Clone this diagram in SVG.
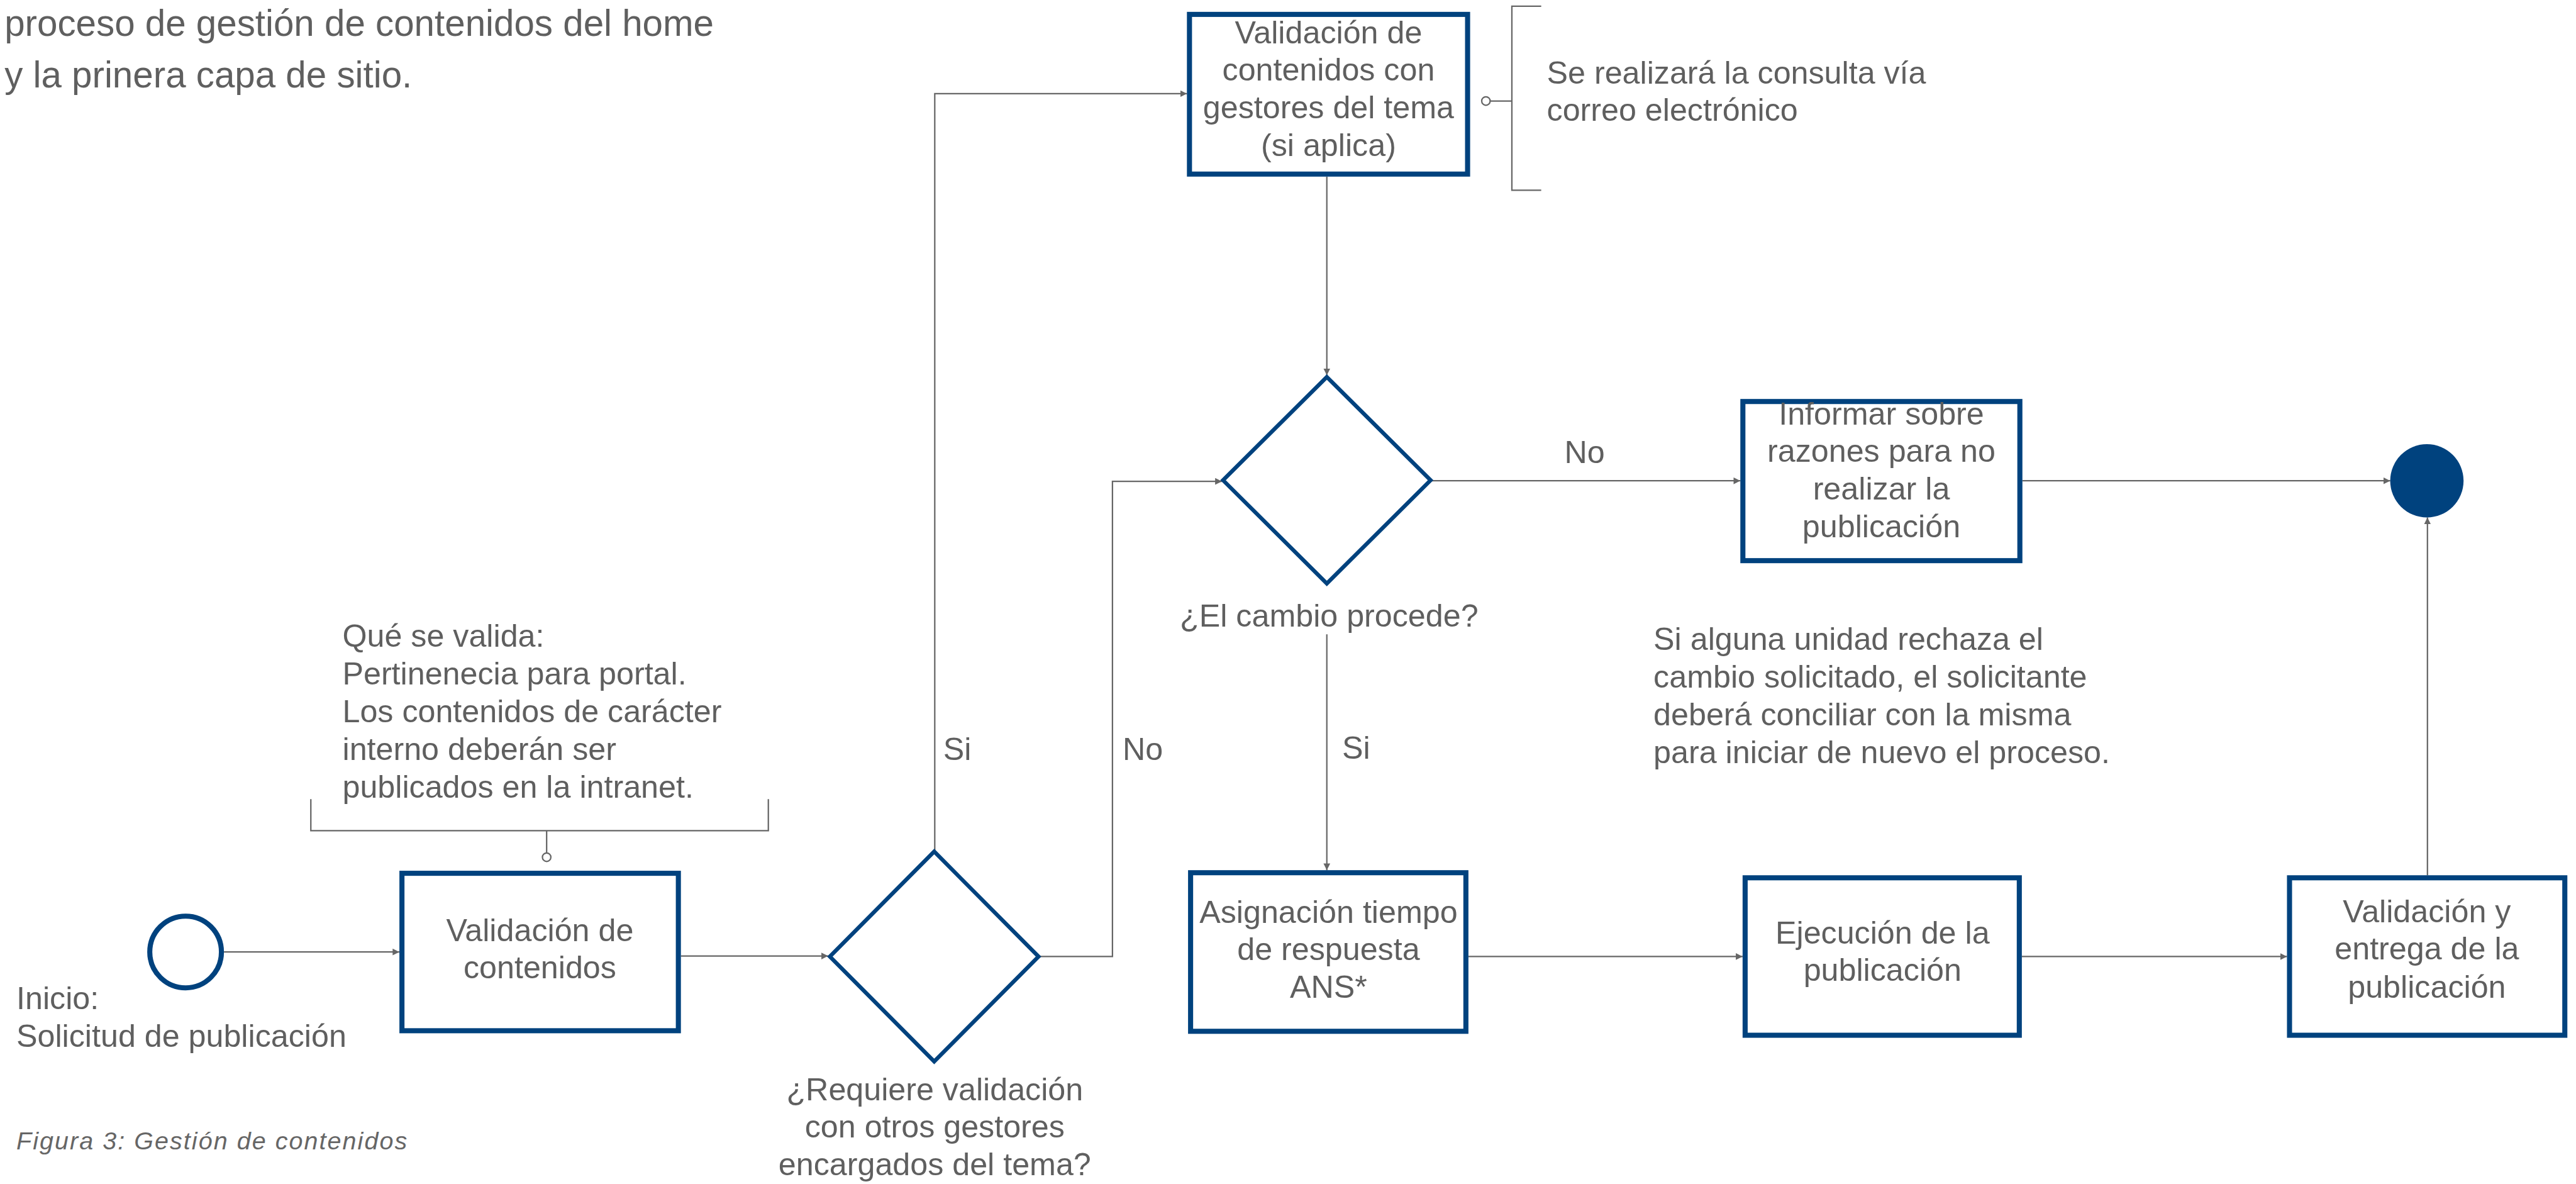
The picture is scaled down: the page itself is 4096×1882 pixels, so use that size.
<svg xmlns="http://www.w3.org/2000/svg" width="4096" height="1882" viewBox="0 0 4096 1882">
<style>
.t{font-family:"Liberation Sans",Arial,Helvetica,sans-serif;font-size:56px;fill:#5f5f5f}
.c{text-anchor:middle}
.box{fill:#fff;stroke:#00427e;stroke-width:9}
.dia{fill:#fff;stroke:#00427e;stroke-width:7;stroke-linejoin:miter}
.ln{fill:none;stroke:#666;stroke-width:2.5}
.arr{marker-end:url(#ah)}
.ring{fill:#fff;stroke:#666;stroke-width:2.5}
</style>
<defs>
<marker id="ah" markerUnits="userSpaceOnUse" viewBox="0 0 12 12" refX="12" refY="6" markerWidth="12" markerHeight="12" orient="auto">
<path d="M0,0 L12,6 L0,12 z" fill="#666"/>
</marker>
</defs>
<rect width="4096" height="1882" fill="#fff"/>
<g transform="scale(0.897)">
<g id="intro-text">
<text class="t" x="8" y="63" style="font-size:65px">proceso de gestión de contenidos del home</text>
<text class="t" x="8" y="155" style="font-size:65px">y la prinera capa de sitio.</text>
</g>
<g id="caption">
<text class="t" x="29" y="2037" style="font-size:44px;font-style:italic;letter-spacing:2.3px;fill:#666">Figura 3: Gestión de contenidos</text>
</g>

<g id="connectors">
<path class="ln arr" d="M397,1687 H708"/>
<path class="ln arr" d="M1207,1694 H1468"/>
<path class="ln arr" d="M1657,1509 V166 H2104"/>
<path class="ln arr" d="M1841,1695 H1972 V853 H2166"/>
<path class="ln arr" d="M2352,313 V665"/>
<path class="ln arr" d="M2536,852 H3085"/>
<path class="ln arr" d="M3585,852 H4237"/>
<path class="ln arr" d="M2352,1124 V1542"/>
<path class="ln arr" d="M2603,1695 H3089"/>
<path class="ln arr" d="M3584,1695 H4054"/>
<path class="ln arr" d="M4303,1551 V917"/>
<text class="t" x="1672" y="1347">Si</text>
<text class="t" x="1990" y="1347">No</text>
<text class="t" x="2773" y="820">No</text>
<text class="t" x="2379" y="1344">Si</text>
</g>

<g id="inicio">
<circle cx="329" cy="1687" r="63.5" fill="#fff" stroke="#00427e" stroke-width="9"/>
<text class="t" x="29" y="1788">Inicio:</text>
<text class="t" x="29" y="1855">Solicitud de publicación</text>
</g>

<g id="fin">
<circle cx="4302" cy="852" r="65" fill="#00427e"/>
</g>

<g id="nota-validacion">
<path class="ln" d="M551,1416 V1472 H1362 V1416 M969,1472 V1511"/>
<circle class="ring" cx="969" cy="1519" r="7.5"/>
<text class="t" x="607" y="1146">Qué se valida:</text>
<text class="t" x="607" y="1213">Pertinenecia para portal.</text>
<text class="t" x="607" y="1280">Los contenidos de carácter</text>
<text class="t" x="607" y="1347">interno deberán ser</text>
<text class="t" x="607" y="1414">publicados en la intranet.</text>
</g>

<g id="validacion-contenidos">
<rect class="box" x="712.5" y="1547.5" width="490" height="279"/>
<text class="t c" x="957" y="1668">Validación de</text>
<text class="t c" x="957" y="1733">contenidos</text>
</g>

<g id="decision-requiere">
<polygon class="dia" points="1656,1509 1841,1695 1656,1881 1471,1695"/>
<text class="t c" x="1657" y="1950">¿Requiere validación</text>
<text class="t c" x="1657" y="2016">con otros gestores</text>
<text class="t c" x="1657" y="2082">encargados del tema?</text>
</g>

<g id="validacion-gestores">
<rect class="box" x="2108.5" y="25.5" width="493" height="283"/>
<text class="t c" x="2355" y="77">Validación de</text>
<text class="t c" x="2355" y="143">contenidos con</text>
<text class="t c" x="2355" y="210">gestores del tema</text>
<text class="t c" x="2355" y="277">(si aplica)</text>
</g>

<g id="nota-consulta">
<path class="ln" d="M2732,11 H2680 V337 H2732 M2680,179 H2642"/>
<circle class="ring" cx="2634" cy="179" r="7.5"/>
<text class="t" x="2742" y="148">Se realizará la consulta vía</text>
<text class="t" x="2742" y="214">correo electrónico</text>
</g>

<g id="decision-procede">
<polygon class="dia" points="2352,668 2536,851 2352,1034 2168,851"/>
<text class="t c" x="2356" y="1110">¿El cambio procede?</text>
</g>

<g id="informar">
<rect class="box" x="3089.5" y="711.5" width="491" height="282"/>
<text class="t c" x="3335" y="752">Informar sobre</text>
<text class="t c" x="3335" y="818">razones para no</text>
<text class="t c" x="3335" y="885">realizar la</text>
<text class="t c" x="3335" y="952">publicación</text>
</g>

<g id="nota-rechazo">
<text class="t" x="2931" y="1152">Si alguna unidad rechaza el</text>
<text class="t" x="2931" y="1218">cambio solicitado, el solicitante</text>
<text class="t" x="2931" y="1285">deberá conciliar con la misma</text>
<text class="t" x="2931" y="1352">para iniciar de nuevo el proceso.</text>
</g>

<g id="asignacion">
<rect class="box" x="2110.5" y="1546.5" width="488" height="281"/>
<text class="t c" x="2355" y="1635">Asignación tiempo</text>
<text class="t c" x="2355" y="1701">de respuesta</text>
<text class="t c" x="2355" y="1768">ANS*</text>
</g>

<g id="ejecucion">
<rect class="box" x="3093.5" y="1555.5" width="486" height="279"/>
<text class="t c" x="3337" y="1672">Ejecución de la</text>
<text class="t c" x="3337" y="1738">publicación</text>
</g>

<g id="validacion-entrega">
<rect class="box" x="4058.5" y="1555.5" width="488" height="279"/>
<text class="t c" x="4302" y="1634">Validación y</text>
<text class="t c" x="4302" y="1700">entrega de la</text>
<text class="t c" x="4302" y="1768">publicación</text>
</g>
</g>
</svg>
